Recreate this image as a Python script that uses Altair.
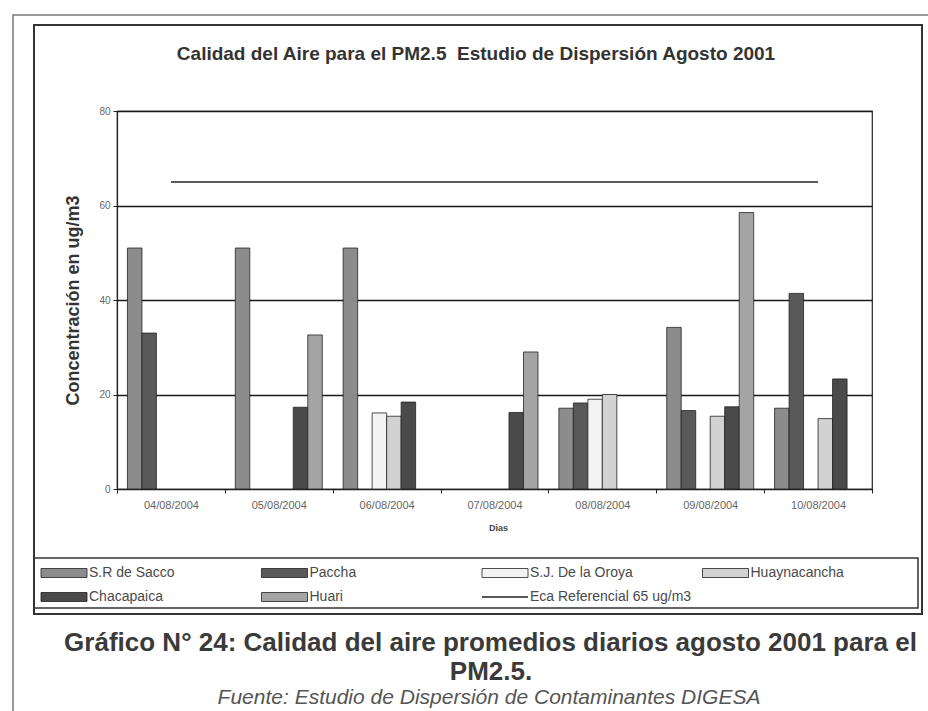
import altair as alt
import pandas as pd

# --- data -------------------------------------------------------------
fechas = ["04/08/2004", "05/08/2004", "06/08/2004", "07/08/2004",
          "08/08/2004", "09/08/2004", "10/08/2004"]
estaciones = ["S.R de Sacco", "Paccha", "S.J. De la Oroya",
              "Huaynacancha", "Chacapaica", "Huari"]

sr_sacco = [51.0, 51.0, 51.0, None, 17.1, 34.2, 17.1]
paccha = [33.0, None, None, None, 18.2, 16.6, 41.4]
sj_oroya = [None, None, 16.1, None, 19.0, None, None]
huaynacancha = [None, None, 15.4, None, 20.0, 15.4, 14.9]
chacapaica = [None, 17.3, 18.4, 16.2, None, 17.4, 23.3]
huari = [None, 32.6, None, 29.0, None, 58.5, None]

eca_valor = 65
eca_nombre = "Eca Referencial 65 ug/m3"

colores = ["#8c8c8c", "#595959", "#f3f3f3", "#d2d2d2", "#4a4a4a", "#a4a4a4"]

# non-breaking space keeps the double gap in the title
titulo = "Calidad del Aire para el PM2.5\u00a0 Estudio de Dispersión Agosto 2001"
pie_1 = "Gráfico N° 24: Calidad del aire promedios diarios agosto 2001 para el"
pie_2 = "PM2.5."
fuente = "Fuente: Estudio de Dispersión de Contaminantes DIGESA"

# --- tables -----------------------------------------------------------
series = [sr_sacco, paccha, sj_oroya, huaynacancha, chacapaica, huari]
filas = []
for nombre, valores in zip(estaciones, series):
    for fecha, v in zip(fechas, valores):
        if v is not None:
            filas.append({"fecha": fecha, "estacion": nombre, "valor": v})
df_barras = pd.DataFrame(filas)
df_eca = pd.DataFrame({"fecha": fechas, "valor": [eca_valor] * len(fechas)})

# legend laid out in 4 columns, 2 rows (pixels relative to the plot origin)
items = estaciones + [eca_nombre]
leg = []
for i, nombre in enumerate(items):
    col, row = i % 4, i // 4
    lx = -28 + col * 220.5
    ly = 462 + row * 24
    leg.append({"nombre": nombre, "lx": lx, "ly": ly,
                "sx1": lx - 48, "sx2": lx - 2, "sy1": ly - 4.5, "sy2": ly + 4.5})
df_leg = pd.DataFrame(leg)

FONT = "Liberation Sans"
W, H = 755, 378
one = pd.DataFrame({"k": [0]})

color_scale = alt.Scale(domain=estaciones, range=colores)

# --- frames -----------------------------------------------------------
marco_ext = alt.Chart(one).mark_rect(fillOpacity=0, stroke="#777", strokeWidth=1.5).encode(
    x=alt.value(-104), x2=alt.value(840), y=alt.value(-96), y2=alt.value(640))
marco = alt.Chart(one).mark_rect(fillOpacity=0, stroke="#333", strokeWidth=2).encode(
    x=alt.value(-83), x2=alt.value(805), y=alt.value(-86), y2=alt.value(503))
marco_leg = alt.Chart(one).mark_rect(fillOpacity=0, stroke="#333", strokeWidth=1.5).encode(
    x=alt.value(-83), x2=alt.value(801), y=alt.value(447), y2=alt.value(497))

# --- bars and reference line -----------------------------------------
barras = alt.Chart(df_barras).mark_bar(stroke="#222", strokeWidth=0.8).encode(
    x=alt.X("fecha:N", sort=fechas,
            scale=alt.Scale(paddingInner=0, paddingOuter=0),
            axis=alt.Axis(title="Dias", labelAngle=0, tickBand="extent",
                          tickSize=4, tickColor="#222", domainColor="#222",
                          domainWidth=1.2, labelFont=FONT, labelFontSize=11,
                          labelColor="#666", labelPadding=6,
                          titleFont=FONT, titleFontSize=9, titleFontWeight="bold",
                          titleColor="#444", titleX=381, titleY=38,
                          titleAlign="center", titleBaseline="middle")),
    xOffset=alt.XOffset("estacion:N", sort=estaciones,
                        scale=alt.Scale(domain=estaciones, paddingInner=0, paddingOuter=0.72)),
    y=alt.Y("valor:Q",
            scale=alt.Scale(domain=[0, 80], nice=False),
            axis=alt.Axis(values=[0, 20, 40, 60, 80], title="Concentración en ug/m3",
                          grid=True, gridColor="#1a1a1a", gridWidth=1.4,
                          tickSize=4, tickColor="#222", domainColor="#222",
                          domainWidth=1.2, labelFont=FONT, labelFontSize=10,
                          labelColor="#666", labelPadding=3,
                          titleFont=FONT, titleFontSize=18, titleFontWeight="bold",
                          titleColor="#333", titleX=-44, titleY=189,
                          titleAngle=-90, titleAlign="center", titleBaseline="middle")),
    color=alt.Color("estacion:N", scale=color_scale, legend=None),
)

linea = alt.Chart(df_eca).mark_line(color="#222", strokeWidth=1.5).encode(
    x=alt.X("fecha:N", sort=fechas),
    y=alt.Y("valor:Q"),
)

# --- legend -----------------------------------------------------------
leg_rect = alt.Chart(df_leg).transform_filter(
    alt.FieldOneOfPredicate(field="nombre", oneOf=estaciones)
).mark_rect(stroke="#222", strokeWidth=0.8).encode(
    x=alt.X("sx1:Q", scale=None, axis=None), x2="sx2:Q",
    y=alt.Y("sy1:Q", scale=None, axis=None), y2="sy2:Q",
    color=alt.Color("nombre:N", scale=color_scale, legend=None),
)
leg_linea = alt.Chart(df_leg).transform_filter(
    alt.datum.nombre == eca_nombre
).mark_rule(color="#222", strokeWidth=1.5).encode(
    x=alt.X("sx1:Q", scale=None, axis=None), x2="sx2:Q",
    y=alt.Y("ly:Q", scale=None, axis=None),
)
leg_texto = alt.Chart(df_leg).mark_text(
    align="left", baseline="middle", font=FONT, fontSize=14, color="#4a4a4a"
).encode(
    x=alt.X("lx:Q", scale=None, axis=None),
    y=alt.Y("ly:Q", scale=None, axis=None),
    text="nombre:N",
)

# --- titles -----------------------------------------------------------
def texto(t, x, y, size, weight="normal", style="normal", color="#333"):
    return alt.Chart(one).mark_text(
        align="center", baseline="alphabetic", font=FONT, fontSize=size,
        fontWeight=weight, fontStyle=style, color=color,
    ).encode(x=alt.value(x), y=alt.value(y), text=alt.value(t))

t_titulo = texto(titulo, 359, -51, 19, weight="bold", color="#333")
t_pie1 = texto(pie_1, 373.5, 540, 26, weight="bold", color="#3a3a3a")
t_pie2 = texto(pie_2, 374, 569, 26, weight="bold", color="#3a3a3a")
t_fuente = texto(fuente, 372, 593, 21, style="italic", color="#555")

chart = alt.layer(
    marco_ext, marco, marco_leg, barras, linea,
    leg_rect, leg_linea, leg_texto,
    t_titulo, t_pie1, t_pie2, t_fuente,
).properties(
    width=W, height=H,
    padding={"left": 117, "top": 111, "right": 56, "bottom": 222},
    autosize=alt.AutoSizeParams(type="none"),
    background="white",
).configure_view(stroke="#222", strokeWidth=1.2)

chart.save("out.html", embed_options={"renderer": "svg", "actions": False})
